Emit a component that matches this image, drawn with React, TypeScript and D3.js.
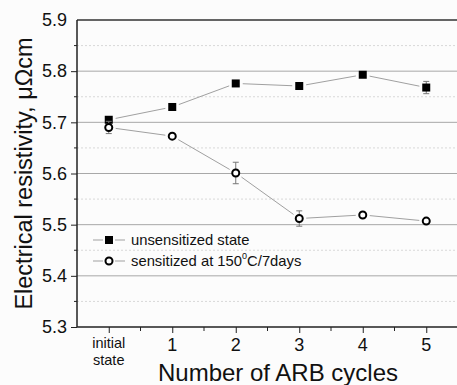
import React, { useEffect, useRef } from "react";
import * as d3 from "d3";

const cycles = [0, 1, 2, 3, 4, 5];
const cycleLabels = ["initial state", "1", "2", "3", "4", "5"];
const unsensitized = [5.705, 5.73, 5.776, 5.771, 5.793, 5.768];
const unsensitizedErr = [0.004, 0.004, 0.004, 0.004, 0.004, 0.012];
const sensitized = [5.69, 5.673, 5.601, 5.512, 5.519, 5.507];
const sensitizedErr = [0.012, 0.004, 0.021, 0.015, 0.004, 0.004];
const yTicks = [5.3, 5.4, 5.5, 5.6, 5.7, 5.8, 5.9];
const yMinor = [5.35, 5.45, 5.55, 5.65, 5.75, 5.85];
const seriesNames = ["unsensitized state", "sensitized at 150"];

const FONT = "Arial, Liberation Sans, sans-serif";

export default function App() {
  const ref = useRef<SVGSVGElement>(null);

  useEffect(() => {
    const width = 457, height = 385;
    const left = 77, top = 20, bottom = 327;
    const svg = d3.select(ref.current);
    svg.selectAll("*").remove();

    const x = d3.scaleLinear().domain([-0.5, 5.5]).range([left, left + 6 * 63.5]);
    const y = d3.scaleLinear().domain([5.3, 5.9]).range([bottom, top]);

    svg.append("rect").attr("width", width).attr("height", height).attr("fill", "#fcfcfc");

    // minor grid
    svg.selectAll(".minor")
      .data(yMinor)
      .join("line")
      .attr("x1", left).attr("x2", width)
      .attr("y1", d => y(d)).attr("y2", d => y(d))
      .attr("stroke", "#d8d8d8")
      .attr("stroke-width", 1)
      .attr("stroke-dasharray", "2,2");

    // major grid
    svg.selectAll(".major")
      .data(yTicks.slice(1, -1))
      .join("line")
      .attr("x1", left).attr("x2", width)
      .attr("y1", d => y(d)).attr("y2", d => y(d))
      .attr("stroke", "#a8a8a8")
      .attr("stroke-width", 1);

    // top frame
    svg.append("line")
      .attr("x1", left).attr("x2", width)
      .attr("y1", y(5.9)).attr("y2", y(5.9))
      .attr("stroke", "#333").attr("stroke-width", 1.5);

    // axes
    const gy = svg.append("g").attr("transform", `translate(${left},0)`);
    gy.call(d3.axisLeft(y).tickValues(yTicks).tickSize(6).tickPadding(4).tickFormat(d3.format(".1f")) as any);
    gy.selectAll(".domain").remove();
    gy.selectAll(".tick line").filter(d => d === 5.9).remove();
    gy.selectAll("text").attr("font-size", 18).attr("font-family", FONT).attr("fill", "#111");
    gy.selectAll(".tick line").attr("stroke", "#222");
    gy.selectAll(".m")
      .data(yMinor)
      .join("line")
      .attr("x1", -3).attr("x2", 0)
      .attr("y1", d => y(d)).attr("y2", d => y(d))
      .attr("stroke", "#222");
    gy.append("line").attr("y1", top).attr("y2", bottom).attr("stroke", "#222").attr("stroke-width", 1.5);

    const gx = svg.append("g").attr("transform", `translate(0,${bottom})`);
    gx.call(d3.axisBottom(x).tickValues(cycles).tickSize(6).tickFormat(() => "") as any);
    gx.selectAll(".domain").remove();
    gx.selectAll(".tick line").attr("stroke", "#222");
    gx.selectAll(".m")
      .data(cycles.map(c => c + 0.5))
      .join("line")
      .attr("x1", d => x(d)).attr("x2", d => x(d))
      .attr("y1", 0).attr("y2", 4)
      .attr("stroke", "#222");
    gx.append("line").attr("x1", left).attr("x2", width).attr("stroke", "#222").attr("stroke-width", 1.5);

    cycles.forEach((c, i) => {
      if (i === 0) {
        const t = svg.append("text")
          .attr("x", x(c)).attr("y", 348)
          .attr("text-anchor", "middle")
          .attr("font-size", 14.5)
          .attr("font-family", FONT)
          .attr("fill", "#111");
        cycleLabels[0].split(" ").forEach((w, k) => {
          t.append("tspan").attr("x", x(c)).attr("dy", k === 0 ? 0 : 17).text(w);
        });
      } else {
        svg.append("text")
          .attr("x", x(c)).attr("y", 351)
          .attr("text-anchor", "middle")
          .attr("font-size", 18)
          .attr("font-family", FONT)
          .attr("fill", "#111")
          .text(cycleLabels[i]);
      }
    });

    // titles
    svg.append("text")
      .attr("x", 278).attr("y", 381)
      .attr("text-anchor", "middle")
      .attr("font-size", 24)
      .attr("font-family", FONT)
      .attr("fill", "#111")
      .text("Number of ARB cycles");
    svg.append("text")
      .attr("transform", "translate(32,173.5) rotate(-90)")
      .attr("text-anchor", "middle")
      .attr("font-size", 23.5)
      .attr("font-family", FONT)
      .attr("fill", "#111")
      .text("Electrical resistivity, μΩcm");

    const drawSeries = (vals: number[], errs: number[], square: boolean) => {
      const pts = cycles.map((c, i) => [x(c), y(vals[i])]);
      // connecting segments with gaps around markers
      for (let i = 0; i < pts.length - 1; i++) {
        const [x1, y1] = pts[i], [x2, y2] = pts[i + 1];
        const len = Math.hypot(x2 - x1, y2 - y1);
        const g = 7 / len;
        svg.append("line")
          .attr("x1", x1 + (x2 - x1) * g).attr("y1", y1 + (y2 - y1) * g)
          .attr("x2", x2 - (x2 - x1) * g).attr("y2", y2 - (y2 - y1) * g)
          .attr("stroke", "#a0a0a0").attr("stroke-width", 1);
      }
      // error bars
      cycles.forEach((c, i) => {
        const cx = x(c), ya = y(vals[i] + errs[i]), yb = y(vals[i] - errs[i]);
        svg.append("line").attr("x1", cx).attr("x2", cx).attr("y1", ya).attr("y2", yb).attr("stroke", "#777");
        [ya, yb].forEach(yy => svg.append("line").attr("x1", cx - 3).attr("x2", cx + 3).attr("y1", yy).attr("y2", yy).attr("stroke", "#777"));
      });
      cycles.forEach((c, i) => {
        if (square) {
          svg.append("rect")
            .attr("x", x(c) - 4).attr("y", y(vals[i]) - 4)
            .attr("width", 8).attr("height", 8)
            .attr("fill", "#000");
        } else {
          svg.append("circle")
            .attr("cx", x(c)).attr("cy", y(vals[i]))
            .attr("r", 3.5)
            .attr("fill", "#fff").attr("stroke", "#000").attr("stroke-width", 2);
        }
      });
    };
    drawSeries(unsensitized, unsensitizedErr, true);
    drawSeries(sensitized, sensitizedErr, false);

    // legend
    [240, 261].forEach((ly, k) => {
      svg.append("line").attr("x1", 93).attr("x2", 103).attr("y1", ly).attr("y2", ly).attr("stroke", "#a0a0a0");
      svg.append("line").attr("x1", 115).attr("x2", 125).attr("y1", ly).attr("y2", ly).attr("stroke", "#a0a0a0");
      if (k === 0) {
        svg.append("rect").attr("x", 105).attr("y", ly - 4).attr("width", 8).attr("height", 8).attr("fill", "#000");
      } else {
        svg.append("circle").attr("cx", 109).attr("cy", ly).attr("r", 3.5).attr("fill", "#fff").attr("stroke", "#000").attr("stroke-width", 2);
      }
      const t = svg.append("text")
        .attr("x", 131).attr("y", ly + 5)
        .attr("font-size", 14.8)
        .attr("font-family", FONT)
        .attr("fill", "#111")
        .text(seriesNames[k]);
      if (k === 1) {
        t.append("tspan").attr("font-size", 9).attr("dy", -7).text("0");
        t.append("tspan").attr("dy", 7).text("C/7days");
      }
    });
  }, []);

  return (
    <svg
      ref={ref}
      width={457}
      height={385}
      style={{ position: "absolute", left: 0, top: 0, display: "block" }}
    />
  );
}
